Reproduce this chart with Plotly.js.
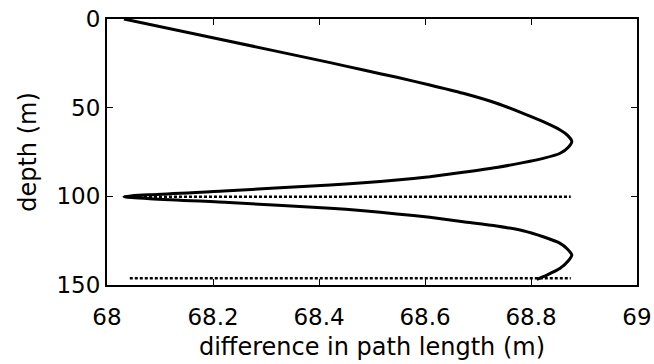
<!DOCTYPE html>
<html>
<head>
<meta charset="utf-8">
<script src="https://cdn.plot.ly/plotly-3.0.1.min.js"></script>
<style>html,body{margin:0;padding:0;background:#fff;}#chart{width:654px;height:364px;}</style>
</head>
<body>
<div id="chart"></div>
<script>
// curve: depth (m) and difference in path length (m)
var depth = [0, 12, 24.6, 28.8, 32.9, 37.2, 41.9, 47.5, 53.2, 57.9, 62.6, 65.6, 69.0, 72.4, 75.7, 78.6, 81.0, 83.7, 86.4, 88.9, 90.8, 92.3, 93.6, 97.0, 100.2,
             103.5, 106.7, 108.1, 109.9, 111.8, 114.3, 116.7, 119.4, 122.8, 126.5, 129.8, 133.1, 136.5, 140.6, 144.4, 146.8];
var diff  = [68.032, 68.222, 68.421, 68.484, 68.547, 68.609, 68.672, 68.735, 68.785, 68.823, 68.855, 68.869, 68.877, 68.870, 68.855, 68.823, 68.785, 68.735, 68.672, 68.609, 68.547, 68.484, 68.421, 68.220, 68.032,
             68.230, 68.421, 68.484, 68.547, 68.609, 68.672, 68.735, 68.785, 68.823, 68.855, 68.869, 68.877, 68.870, 68.855, 68.830, 68.811];
// dotted reference lines
var refDepths = [100.2, 146.2];
var refStart = [68.032, 68.043];
var refEnd = [68.875, 68.875];
var xTicks = [68, 68.2, 68.4, 68.6, 68.8, 69];
var yTicks = [0, 50, 100, 150];

var traces = [];
for (var i = 0; i < refDepths.length; i++) {
  traces.push({x: [refStart[i], refEnd[i]], y: [refDepths[i], refDepths[i]], mode: 'lines',
    line: {color: '#000', width: 2.5, dash: '3px,2px'}, hoverinfo: 'skip', showlegend: false});
}
traces.push({x: diff, y: depth, mode: 'lines', line: {color: '#000', width: 3, shape: 'spline', smoothing: 0.6}, showlegend: false});

var FONT = 'DejaVu Sans, sans-serif';
var axisCommon = {showgrid: false, zeroline: false, showline: true, linecolor: '#000', linewidth: 2,
  mirror: 'ticks', ticks: 'inside', ticklen: 6, tickcolor: '#000', tickwidth: 1,
  tickfont: {family: FONT, size: 23, color: '#000'}};

var layout = {
  width: 654, height: 364,
  margin: {l: 107, r: 17, t: 19, b: 79},
  paper_bgcolor: '#fff', plot_bgcolor: '#fff',
  font: {family: FONT, color: '#000'},
  xaxis: Object.assign({}, axisCommon, {range: [68, 69], tickvals: xTicks, ticktext: xTicks.map(String),
    ticklabelstandoff: 10,
    title: {text: 'difference in path length (m)', font: {family: FONT, size: 24, color: '#000'}, standoff: 10}}),
  yaxis: Object.assign({}, axisCommon, {range: [150, 0], tickvals: yTicks, ticktext: yTicks.map(String),
    title: {text: 'depth (m)', font: {family: FONT, size: 24, color: '#000'}, standoff: 13}})
};
Plotly.newPlot('chart', traces, layout, {staticPlot: true, displayModeBar: false});
</script>
</body>
</html>
